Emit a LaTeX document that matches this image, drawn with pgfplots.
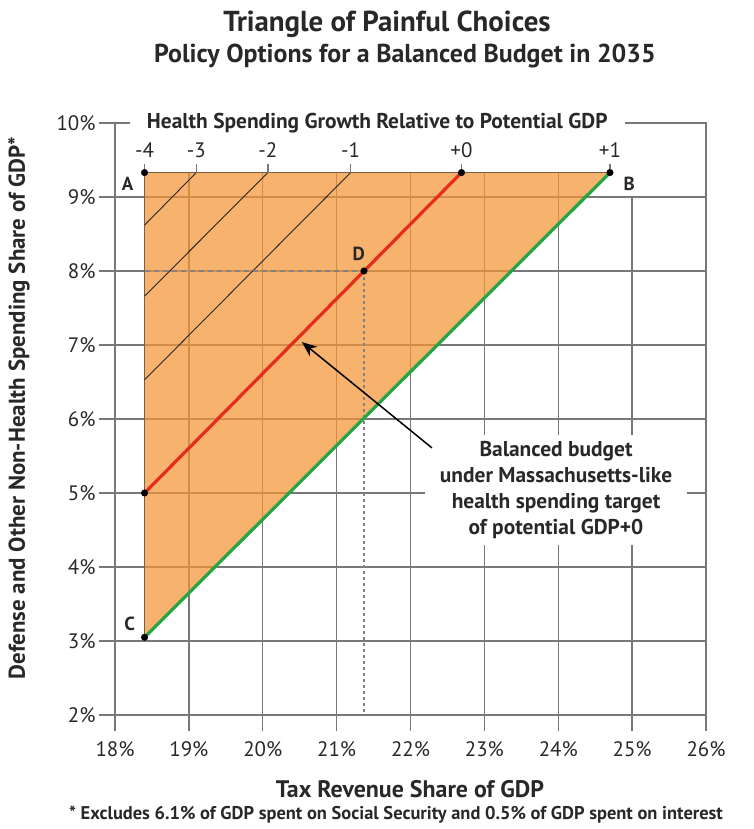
\documentclass[border=0pt]{standalone}
\usepackage{pgfplots}
\pgfplotsset{compat=1.18}
\usetikzlibrary{arrows.meta}
\usepackage{fontspec}
\setmainfont{PT Sans}
\definecolor{gridc}{RGB}{120,120,120}
\definecolor{tri}{RGB}{244,148,54}
\definecolor{triedge}{RGB}{120,95,70}
\definecolor{redl}{RGB}{228,45,28}
\definecolor{greenl}{RGB}{38,165,68}
\definecolor{dashc}{RGB}{130,130,130}
\definecolor{txt}{RGB}{40,40,40}
\begin{document}
\begin{tikzpicture}
\path[use as bounding box] (-115bp,-114bp) rectangle (639bp,715bp);
\begin{axis}[
  at={(0,0)}, anchor=south west,
  width=591bp, height=592bp, scale only axis,
  xmin=18, xmax=26, ymin=2, ymax=10,
  clip=false,
  axis line style={draw=none},
  xtick={18,19,20,21,22,23,24,25,26},
  ytick={2,3,4,5,6,7,8,9,10},
  xticklabels={18\%,19\%,20\%,21\%,22\%,23\%,24\%,25\%,26\%},
  yticklabels={2\%,3\%,4\%,5\%,6\%,7\%,8\%,9\%,10\%},
  xtick pos=bottom, ytick pos=left,
  tick align=outside, major tick length=16bp,
  tick style={gridc, line width=1.4bp},
  tick label style={font=\fontsize{21}{23}\selectfont, text=txt},
  xticklabel style={yshift=-7bp},
]
% grid lines (2% to 9%)
\foreach \yy in {2,...,9} {
  \edef\temp{\noexpand\draw[gridc, line width=1.4bp] (axis cs:18,\yy) -- (axis cs:26,\yy);}
  \temp
}
\foreach \xx in {19,...,25} {
  \edef\temp{\noexpand\draw[gridc, line width=1.4bp] (axis cs:\xx,2) -- (axis cs:\xx,9);}
  \temp
}
\foreach \xx in {19,...,24} {
  \edef\temp{\noexpand\draw[gridc, line width=1.4bp] (axis cs:\xx,9) -- (axis cs:\xx,9.33);}
  \temp
}
% frame
\draw[gridc, line width=1.4bp] (axis cs:18,2) -- (axis cs:18,10) -- (axis cs:18.2,10);
\draw[gridc, line width=1.4bp] (axis cs:24.9,10) -- (axis cs:26,10) -- (axis cs:26,2);
\node[font=\bfseries\fontsize{21.5}{23}\selectfont, text=txt] at (axis cs:21.55,10) {Health Spending Growth Relative to Potential GDP};

% triangle of choices
\addplot[fill=tri, fill opacity=0.72, draw=none] coordinates {(18.4,3.05) (18.4,9.33) (24.7,9.33) (18.4,3.05)};
\addplot[triedge, line width=1.2bp] coordinates {(18.4,3.05) (18.4,9.33) (24.7,9.33)};

% health spending growth lines (-3, -2, -1)
\addplot[black!85, line width=0.9bp] coordinates {(18.4,8.62) (19.10,9.33)};
\addplot[black!85, line width=0.9bp] coordinates {(18.4,7.66) (20.07,9.33)};
\addplot[black!85, line width=0.9bp] coordinates {(18.4,6.53) (21.19,9.33)};

% dashed guides to D
\addplot[dashc, line width=1.4bp, dash pattern=on 5bp off 4bp] coordinates {(18.4,8.0) (21.37,8.0)};
\addplot[dashc, line width=1.6bp, dash pattern=on 3bp off 3bp] coordinates {(21.37,8.0) (21.37,2.0)};

% balanced budget (GDP+0) and GDP+1 lines
\addplot[redl, line width=3.2bp] coordinates {(18.4,5.0) (22.69,9.33)};
\addplot[greenl, line width=3.2bp] coordinates {(18.4,3.05) (24.70,9.33)};

% top scale ticks
\foreach \xx in {18.4,19.10,20.07,21.19,22.69,24.70} {
  \edef\temp{\noexpand\draw[gridc, line width=1.2bp] (axis cs:\xx,9.33) -- (axis cs:\xx,9.44);}
  \temp
}
\node[font=\fontsize{21}{23}\selectfont, text=txt] at (axis cs:18.4,9.63) {-4};
\node[font=\fontsize{21}{23}\selectfont, text=txt] at (axis cs:19.10,9.63) {-3};
\node[font=\fontsize{21}{23}\selectfont, text=txt] at (axis cs:20.07,9.63) {-2};
\node[font=\fontsize{21}{23}\selectfont, text=txt] at (axis cs:21.19,9.63) {-1};
\node[font=\fontsize{21}{23}\selectfont, text=txt] at (axis cs:22.69,9.63) {+0};
\node[font=\fontsize{21}{23}\selectfont, text=txt] at (axis cs:24.70,9.63) {+1};

% points
\addplot[only marks, mark=*, mark size=3.3bp, black] coordinates {(18.4,9.33) (24.70,9.33) (18.4,3.05) (21.37,8.0) (18.4,5.0) (22.69,9.33)};
\node[font=\bfseries\fontsize{19}{21}\selectfont, text=txt] at (axis cs:18.17,9.18) {A};
\node[font=\bfseries\fontsize{19}{21}\selectfont, text=txt] at (axis cs:24.96,9.18) {B};
\node[font=\bfseries\fontsize{19}{21}\selectfont, text=txt] at (axis cs:18.2,3.23) {C};
\node[font=\bfseries\fontsize{19}{21}\selectfont, text=txt] at (axis cs:21.30,8.23) {D};

% annotation
\node[fill=white, inner sep=0pt, minimum width=262bp, minimum height=110bp, align=center,
      font=\bfseries\fontsize{21.5}{26}\selectfont, text=txt] at (axis cs:23.97,5.04)
  {Balanced budget\\under Massachusetts-like\\health spending target\\of potential GDP+0};
\draw[-{Stealth[length=15bp,width=12bp]}, black, line width=1.5bp] (axis cs:22.29,5.61) -- (axis cs:20.53,7.04);
\end{axis}
% titles and labels
\node[font=\bfseries\fontsize{29}{31}\selectfont, text=txt] at (272bp,691bp) {Triangle of Painful Choices};
\node[font=\bfseries\fontsize{26}{28}\selectfont, text=txt] at (290bp,659bp) {Policy Options for a Balanced Budget in 2035};
\node[font=\bfseries\fontsize{23}{25}\selectfont, text=txt, rotate=90] at (-96bp,307bp) {Defense and Other Non-Health Spending Share of GDP*};
\node[font=\bfseries\fontsize{24}{26}\selectfont, text=txt] at (295bp,-74bp) {Tax Revenue Share of GDP};
\node[font=\bfseries\fontsize{18.5}{20}\selectfont, text=txt] at (281bp,-100bp) {* Excludes 6.1\% of GDP spent on Social Security and 0.5\% of GDP spent on interest};
\end{tikzpicture}
\end{document}
